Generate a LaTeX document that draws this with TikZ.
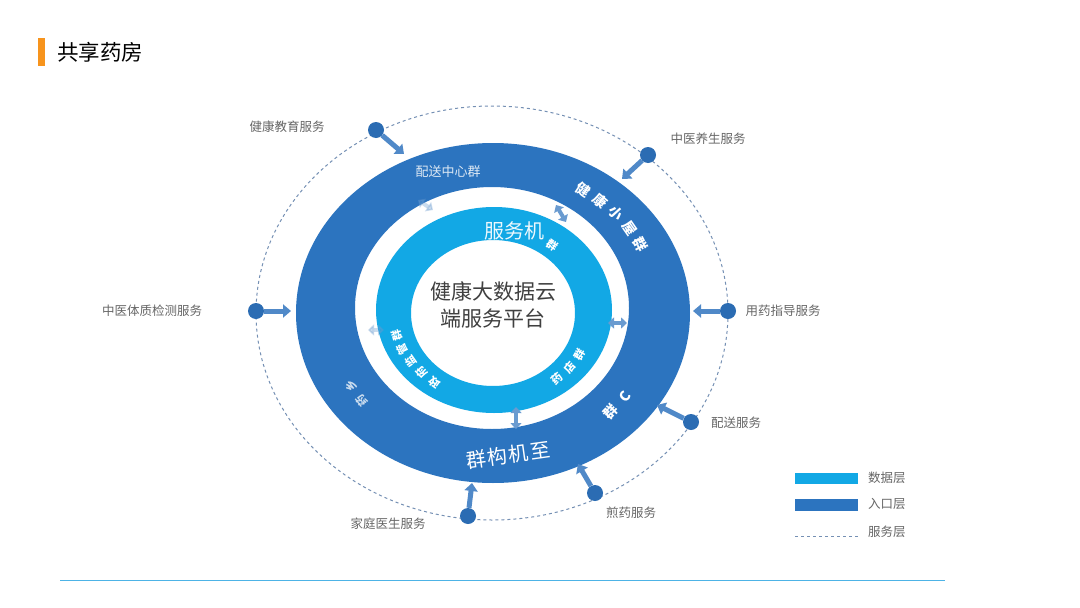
\documentclass[tikz,border=0pt]{standalone}
\usepackage{fontspec}
\setmainfont{Noto Sans CJK SC}
\usetikzlibrary{arrows.meta}
\definecolor{darkring}{HTML}{2C74BF}
\definecolor{lightring}{HTML}{12A8E5}
\definecolor{dotblue}{HTML}{2B6CB3}
\definecolor{arrowblue}{HTML}{5089C8}
\definecolor{dashc}{HTML}{7590B4}
\definecolor{labelc}{HTML}{666666}
\definecolor{titleorange}{HTML}{F7941D}
\definecolor{linec}{HTML}{4DB3E6}
\tikzset{
  svcdot/.style={circle,fill=dotblue,minimum size=16pt,inner sep=0pt},
  svclabel/.style={text=labelc,font=\fontsize{12.5}{14}\selectfont,inner sep=1pt},
  svcarrow/.style={arrowblue,line width=5pt,-{Triangle[length=8pt,width=13pt]}},
  linkarrow/.style={arrowblue!85,line width=4pt,{Triangle[length=6pt,width=11pt]}-{Triangle[length=6pt,width=11pt]}},
  ringchar/.style={text=white,font=\bfseries\fontsize{14}{15}\selectfont,inner sep=0pt},
  innerchar/.style={text=white,font=\bfseries\fontsize{11}{12}\selectfont,inner sep=0pt},
  bigchar/.style={text=white,font=\fontsize{20}{22}\selectfont,inner sep=0pt},
  legendlabel/.style={text=labelc,font=\fontsize{12.5}{14}\selectfont,anchor=west,inner sep=0pt}
}
\begin{document}
\begin{tikzpicture}[x=1pt,y=-1pt]
\useasboundingbox (0,0) rectangle (1080,608);
\fill[white] (0,0) rectangle (1080,608);
% title
\fill[titleorange] (38,38) rectangle (45,66);
\node[anchor=west,inner sep=0pt,font=\fontsize{21.5}{24}\selectfont] (title) at (57,52) {共享药房};
% dashed service ellipse
\draw[dashc,dashed,line width=1pt] (492,313) ellipse [x radius=236,y radius=207];
% dark ring
\fill[darkring,even odd rule] (493,313) ellipse [x radius=197,y radius=170]
      (492,308) ellipse [x radius=137,y radius=121];
% light ring
\fill[lightring,even odd rule] (494,310) ellipse [x radius=118,y radius=103]
      (493,313) ellipse [x radius=82,y radius=73];
% center text
\node[align=center,text=black!75,font=\fontsize{21}{27}\selectfont] (core) at (493,305) {健康大数据云\\端服务平台};
% ring texts
\node[text=white!85!darkring,font=\fontsize{13}{15}\selectfont] (peisong) at (448,172) {配送中心群};
\foreach \c [count=\i] in {健,康,小,屋,群}{
  \pgfmathsetmacro\t{57-7.4*(\i-1)}
  \node[ringchar,rotate=\t-90] (xw\i) at ({492+167*cos(\t)},{311-145*sin(\t)}) {\c};
}
\node[text=white!92!lightring,font=\fontsize{20}{22}\selectfont,inner sep=0pt] (fuwuji) at (514,231) {服务机};
\node[innerchar,rotate=-35] (fuwuqun) at (552,245) {群};
\foreach \c [count=\i] in {群,构,机,至}{
  \pgfmathsetmacro\s{(\i-2.5)*21.5}
  \node[bigchar,rotate=8] (zj\i) at ({508+\s*cos(8)},{455-\s*sin(8)}) {\c};
}
\foreach \c [count=\i] in {群,C}{
  \pgfmathsetmacro\t{-44+8*(\i-1)}
  \node[ringchar,rotate=\t+90] (cq\i) at ({492+165*cos(\t)},{311-145*sin(\t)}) {\c};
}
\foreach \c [count=\i] in {政,府,监,管,群}{
  \pgfmathsetmacro\t{-126-9.5*(\i-1)}
  \node[innerchar,rotate=\t+270] (zf\i) at ({493+100*cos(\t)},{311-88*sin(\t)}) {\c};
}
\foreach \c [count=\i] in {药,店,群}{
  \pgfmathsetmacro\t{-50+10*(\i-1)}
  \node[innerchar,rotate=\t+90] (yd\i) at ({493+100*cos(\t)},{311-88*sin(\t)}) {\c};
}
\foreach \c [count=\i] in {药,乡}{
  \pgfmathsetmacro\t{-142-7*(\i-1)}
  \node[innerchar,opacity=0.75,rotate=\t+270] (lf\i) at ({492+165*cos(\t)},{311-145*sin(\t)}) {\c};
}
% link arrows between rings
\coordinate (l1a) at (556,205); \coordinate (l1b) at (566,222);
\draw[linkarrow] (l1a) -- (l1b);
\coordinate (l2a) at (608,323); \coordinate (l2b) at (627,323);
\draw[linkarrow] (l2a) -- (l2b);
\coordinate (l3a) at (516,407); \coordinate (l3b) at (516,429);
\draw[linkarrow] (l3a) -- (l3b);
\coordinate (l4a) at (418,200); \coordinate (l4b) at (433,210);
\draw[linkarrow,opacity=0.35] (l4a) -- (l4b);
\coordinate (l5a) at (368,330); \coordinate (l5b) at (384,330);
\draw[linkarrow,opacity=0.35] (l5a) -- (l5b);
% service dots and labels
\node[svcdot] (d1) at (376,130) {};
\node[svclabel] (t1) at (287,127) {健康教育服务};
\coordinate (a1) at (404,154);
\draw[svcarrow] (d1) -- (a1);
\node[svcdot] (d2) at (648,155) {};
\node[svclabel] (t2) at (708,139) {中医养生服务};
\coordinate (a2) at (622,179);
\draw[svcarrow] (d2) -- (a2);
\node[svcdot] (d3) at (256,311) {};
\node[svclabel] (t3) at (152,311) {中医体质检测服务};
\coordinate (a3) at (291,311);
\draw[svcarrow] (d3) -- (a3);
\node[svcdot] (d4) at (728,311) {};
\node[svclabel] (t4) at (783,311) {用药指导服务};
\coordinate (a4) at (693,311);
\draw[svcarrow] (d4) -- (a4);
\node[svcdot] (d5) at (691,422) {};
\node[svclabel] (t5) at (736,423) {配送服务};
\coordinate (a5) at (657,405);
\draw[svcarrow] (d5) -- (a5);
\node[svcdot] (d6) at (595,493) {};
\node[svclabel] (t6) at (631,513) {煎药服务};
\coordinate (a6) at (578,464);
\draw[svcarrow] (d6) -- (a6);
\node[svcdot] (d7) at (468,516) {};
\node[svclabel] (t7) at (388,524) {家庭医生服务};
\coordinate (a7) at (472,483);
\draw[svcarrow] (d7) -- (a7);
% legend
\fill[lightring] (795,473) rectangle (858,484);
\node[legendlabel] (lg1) at (868,478) {数据层};
\fill[darkring] (795,499) rectangle (858,511);
\node[legendlabel] (lg2) at (868,504) {入口层};
\draw[dashc,dashed,line width=1pt] (795,536) -- (858,536);
\node[legendlabel] (lg3) at (868,532) {服务层};
% bottom line
\draw[linec,line width=1pt] (60,580) -- (945,580);
\end{tikzpicture}
\end{document}
